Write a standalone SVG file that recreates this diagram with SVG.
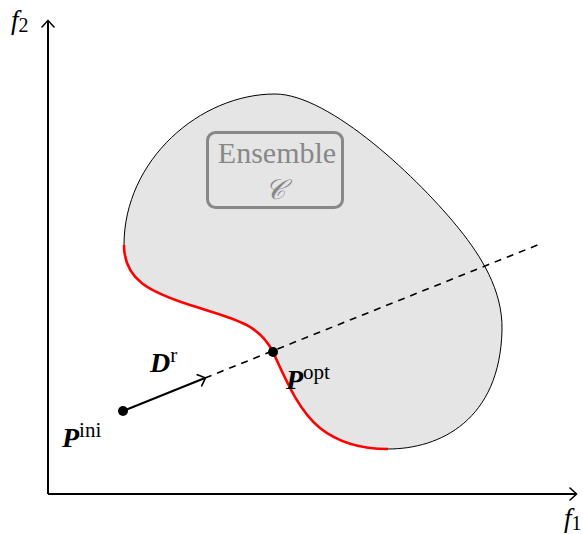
<svg xmlns="http://www.w3.org/2000/svg" width="583" height="534" viewBox="0 0 583 534">
<style>
.t{font-family:"Liberation Serif","DejaVu Serif",serif;fill:#000}
.lab{font-size:28px;font-weight:bold;font-style:italic}
.sup{font-size:21px;font-weight:normal;font-style:normal}
.ax{font-size:27px;font-style:italic}
.sub{font-size:20px;font-style:normal}
.axis{stroke:#000;stroke-width:2;fill:none}
</style>
<defs>
<marker id="tip" viewBox="-7 -7 9 14" markerWidth="9" markerHeight="14" refX="0" refY="0" orient="auto" markerUnits="userSpaceOnUse">
<path d="M-6,-6 Q-1,-1.5 0.5,0 Q-1,1.5 -6,6" fill="none" stroke="#000" stroke-width="1.6" stroke-linecap="round"/>
</marker>
</defs>
<g id="region">
<path d="M124,245 C124,280 150,292 190,305 C230,318 258,322 273,352 C285,378 298,410 320,428 C340,444 365,449 388,449 C440,449 500,420 502,330 C503,290 480,255 460,230 C420,180 330,94 275,94 C200,94 124,160 124,245 Z" fill="#e5e5e5" stroke="none"/>
<path d="M388,449 C440,449 500,420 502,330 C503,290 480,255 460,230 C420,180 330,94 275,94 C200,94 124,160 124,245" fill="none" stroke="#000" stroke-width="1"/>
<path d="M124,245 C124,280 150,292 190,305 C230,318 258,322 273,352 C285,378 298,410 320,428 C340,444 365,449 388,449" fill="none" stroke="#ff0000" stroke-width="2.6"/>
</g>
<g id="ensemble">
<rect x="207.5" y="132.5" width="135" height="75" rx="8" fill="none" stroke="#888" stroke-width="3"/>
<text class="t" x="277" y="163" text-anchor="middle" font-size="30" style="fill:#888">Ensemble</text>
<text class="t" x="275" y="199" text-anchor="middle" font-size="28" font-style="italic" style="fill:#888">𝒞</text>
</g>
<g id="axes">
<path class="axis" d="M48,494 V21" marker-end="url(#tip)"/>
<path class="axis" d="M48,494 H576" marker-end="url(#tip)"/>
<text class="t ax" x="11" y="29">f<tspan class="sub" dy="3">2</tspan></text>
<text class="t ax" x="564" y="527">f<tspan class="sub" dy="3">1</tspan></text>
</g>
<g id="connectors">
<path d="M205,378 L540,244" stroke="#000" stroke-width="1.6" stroke-dasharray="7,6" fill="none"/>
<path d="M123,411 L205,378" stroke="#000" stroke-width="2" fill="none" marker-end="url(#tip)"/>
</g>
<g id="p-ini">
<circle cx="123" cy="411" r="5" fill="#000"/>
<text class="t lab" x="62" y="447">P<tspan class="sup" dy="-10">ini</tspan></text>
</g>
<g id="p-opt">
<circle cx="273" cy="352" r="5" fill="#000"/>
<text class="t lab" x="286" y="389">P<tspan class="sup" dy="-10">opt</tspan></text>
</g>
<g id="d-r">
<text class="t lab" x="150" y="372">D<tspan class="sup" dy="-10">r</tspan></text>
</g>
</svg>
